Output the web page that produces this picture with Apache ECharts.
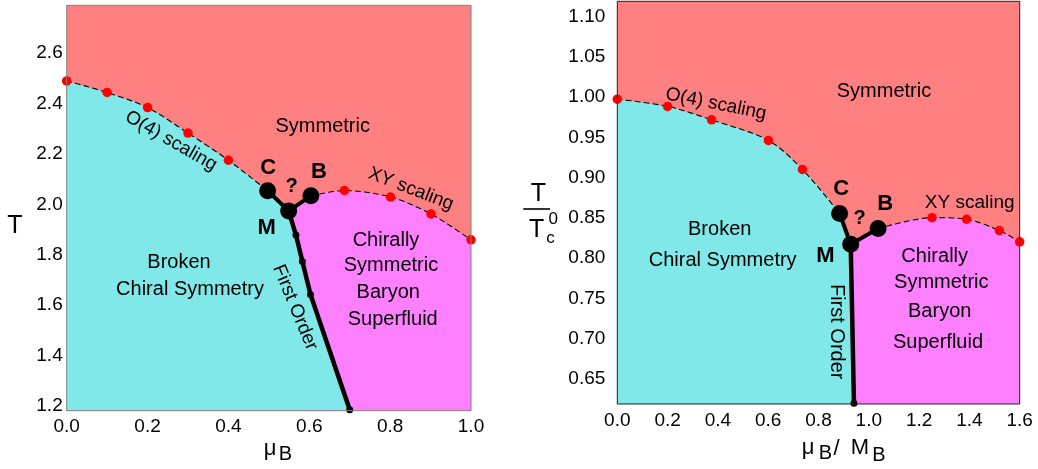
<!DOCTYPE html>
<html>
<head>
<meta charset="utf-8">
<script src="https://cdn.jsdelivr.net/npm/echarts@6/dist/echarts.min.js"></script>
<style>
  html, body { margin: 0; padding: 0; background: #ffffff; }
  #chart { width: 1038px; height: 469px; }
</style>
</head>
<body>
<div id="chart"></div>
<script>
// ---- Phase diagram in (mu_B, T) ----
const leftXTicks = [0.0, 0.2, 0.4, 0.6, 0.8, 1.0];
const leftYTicks = [1.2, 1.4, 1.6, 1.8, 2.0, 2.2, 2.4, 2.6];
const leftO4 = [[0.0, 2.490], [0.1, 2.444], [0.2, 2.384], [0.3, 2.283], [0.4, 2.175]];
const leftC = [0.497, 2.054];
const leftM = [0.549, 1.974];
const leftB = [0.604, 2.034];
const leftXY = [[0.687, 2.055], [0.801, 2.029], [0.901, 1.962], [1.0, 1.859]];
const leftFirstOrder = [[0.567, 1.878], [0.583, 1.773], [0.603, 1.642], [0.700, 1.185]];

// ---- Phase diagram in (mu_B / M_B, T / Tc0) ----
const rightXTicks = [0.0, 0.2, 0.4, 0.6, 0.8, 1.0, 1.2, 1.4, 1.6];
const rightYTicks = [0.65, 0.70, 0.75, 0.80, 0.85, 0.90, 0.95, 1.00, 1.05, 1.10];
const rightO4 = [[0.0, 0.9975], [0.2, 0.9885], [0.375, 0.9718], [0.601, 0.9463], [0.736, 0.9103]];
const rightC = [0.884, 0.8555];
const rightM = [0.928, 0.8174];
const rightB = [1.037, 0.8369];
const rightXY = [[1.251, 0.8504], [1.389, 0.8484], [1.519, 0.8344], [1.6, 0.8204]];
const rightFirstOrder = [[0.941, 0.620]];

const FONT = '"Liberation Sans", Arial, Helvetica, sans-serif';
const RED = '#ff8080', CYAN = '#80e8e8', MAGENTA = '#ff80ff';

const chart = echarts.init(document.getElementById('chart'), null, { renderer: 'canvas' });

function valueAxis(grid, min, max, ticks, digits, margin) {
  return {
    type: 'value', gridIndex: grid, min: min, max: max,
    axisLine: { show: false }, axisTick: { show: false }, splitLine: { show: false },
    axisLabel: {
      customValues: ticks, margin: margin,
      formatter: v => Number(v).toFixed(digits),
      fontFamily: FONT, fontSize: 19, color: '#000'
    }
  };
}

function area(idx, data, color) {
  return {
    type: 'line', xAxisIndex: idx, yAxisIndex: idx, data: data,
    smooth: 0.3, symbol: 'none', silent: true, z: 1,
    lineStyle: { width: 0 },
    areaStyle: { color: color, opacity: 1, origin: 'start' }
  };
}

function curve(idx, data, width, dashed, smooth) {
  return {
    type: 'line', xAxisIndex: idx, yAxisIndex: idx, data: data,
    smooth: smooth, symbol: 'none', silent: true, z: 2,
    lineStyle: { color: '#000', width: width, type: dashed ? [5, 4] : 'solid', cap: 'round', join: 'round' }
  };
}

function dots(idx, data, size, color) {
  return {
    type: 'scatter', xAxisIndex: idx, yAxisIndex: idx, data: data,
    symbolSize: size, clip: false, silent: true, z: 3,
    itemStyle: { color: color, opacity: 1 }
  };
}

function panelSeries(idx, o4, C, M, B, xy, fo) {
  return [
    area(idx, [M, B].concat(xy), MAGENTA),
    area(idx, o4.concat([C, M], fo), CYAN),
    curve(idx, o4.concat([C]), 1.1, true, 0.3),
    curve(idx, [B].concat(xy), 1.1, true, 0.3),
    curve(idx, [C, M, B], 4, false, false),
    curve(idx, [M].concat(fo), 4.5, false, false),
    dots(idx, o4.concat(xy), 9.5, '#ff0000'),
    dots(idx, [C, M, B], 17, '#000'),
    dots(idx, fo, 7, '#000')
  ];
}

function label(text, x, y, opts) {
  opts = opts || {};
  return {
    type: 'text', x: x, y: y, rotation: opts.rotation || 0, z: 20, silent: true,
    style: {
      text: text, fill: '#000', align: 'center', verticalAlign: 'middle',
      font: (opts.bold ? 'bold ' : '') + (opts.size || 20) + 'px ' + FONT
    }
  };
}

const gridL = { left: 66.7, top: 5.3, width: 404.3, height: 405.4 };
const gridR = { left: 617.3, top: 1.3, width: 402.4, height: 402.7 };

const option = {
  animation: false,
  backgroundColor: '#ffffff',
  grid: [
    Object.assign({ show: true, backgroundColor: RED, borderWidth: 0 }, gridL),
    Object.assign({ show: true, backgroundColor: RED, borderWidth: 0 }, gridR)
  ],
  xAxis: [
    valueAxis(0, 0, 1, leftXTicks, 1, 7),
    valueAxis(1, 0, 1.6, rightXTicks, 1, 7)
  ],
  yAxis: [
    valueAxis(0, 1.181, 2.79, leftYTicks, 1, 4),
    valueAxis(1, 0.619, 1.119, rightYTicks, 2, 12)
  ],
  series: panelSeries(0, leftO4, leftC, leftM, leftB, leftXY, leftFirstOrder)
    .concat(panelSeries(1, rightO4, rightC, rightM, rightB, rightXY, rightFirstOrder)),
  graphic: [
    // frames
    { type: 'rect', z: 15, silent: true, shape: { x: gridL.left, y: gridL.top, width: gridL.width, height: gridL.height },
      style: { fill: 'none', stroke: '#808080', lineWidth: 1 } },
    { type: 'rect', z: 15, silent: true, shape: { x: gridR.left, y: gridR.top, width: gridR.width, height: gridR.height },
      style: { fill: 'none', stroke: '#222', lineWidth: 1 } },

    // left panel text
    label('Symmetric', 322.7, 126.7),
    label('Broken', 179, 262.3),
    label('Chiral Symmetry', 190, 289.3),
    label('Chirally', 386, 240.7),
    label('Symmetric', 391, 265),
    label('Baryon', 388.3, 292),
    label('Superfluid', 392.7, 319.3),
    label('O(4) scaling', 171, 141, { size: 19, rotation: -0.52 }),
    label('XY scaling', 411, 189, { size: 19, rotation: -0.37 }),
    label('First Order', 295, 307.5, { size: 19, rotation: -1.18 }),
    label('C', 268.3, 167.7, { bold: true, size: 22 }),
    label('B', 319, 171.7, { bold: true, size: 22 }),
    label('?', 291.7, 186, { bold: true, size: 20 }),
    label('M', 266.7, 228.3, { bold: true, size: 22 }),
    label('T', 15, 226, { size: 25 }),
    label('\u03bc', 270, 449, { size: 22 }),
    label('B', 285.5, 454, { size: 20 }),

    // right panel text
    label('Symmetric', 884, 91),
    label('Broken', 719.7, 229),
    label('Chiral Symmetry', 722.7, 260.7),
    label('Chirally', 934.7, 256.7),
    label('Symmetric', 941.3, 282.7),
    label('Baryon', 939.7, 311.7),
    label('Superfluid', 938, 342.7),
    label('O(4) scaling', 716, 104, { size: 19, rotation: -0.2 }),
    label('XY scaling', 969.7, 202.3, { size: 19 }),
    label('First Order', 836.3, 331.7, { size: 20, rotation: -Math.PI / 2 }),
    label('C', 841.3, 189, { bold: true, size: 22 }),
    label('B', 885.3, 204.3, { bold: true, size: 22 }),
    label('?', 859.7, 218.3, { bold: true, size: 20 }),
    label('M', 825.3, 255.7, { bold: true, size: 22 }),
    label('\u03bc', 808, 448.3, { size: 22 }),
    label('B', 825.5, 453, { size: 20 }),
    label('/', 836.5, 449, { size: 22 }),
    label('M', 860, 448.3, { size: 22 }),
    label('B', 879, 455, { size: 20 }),
    label('T', 538.3, 194, { size: 25 }),
    { type: 'line', z: 20, silent: true, shape: { x1: 523.3, y1: 209, x2: 550, y2: 209 },
      style: { stroke: '#000', lineWidth: 1.6 } },
    label('T', 536.7, 230, { size: 25 }),
    label('0', 553.3, 219, { size: 17 }),
    label('c', 550.5, 238.5, { size: 17 })
  ]
};

chart.setOption(option);
</script>
</body>
</html>
